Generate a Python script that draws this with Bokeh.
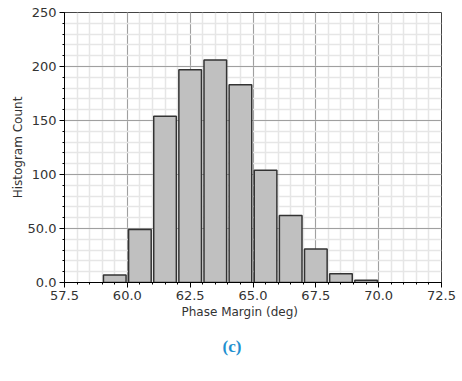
import numpy as np
from bokeh.plotting import figure
from bokeh.models import FixedTicker, Range1d, Title
from bokeh.embed import file_html
from bokeh.resources import INLINE

# ---- data ----
bin_left = [59, 60, 61, 62, 63, 64, 65, 66, 67, 68, 69]
counts = [7, 49, 154, 197, 206, 183, 104, 62, 31, 8, 2]
x_ticks = [57.5, 60.0, 62.5, 65.0, 67.5, 70.0, 72.5]
x_tick_labels = ["57.5", "60.0", "62.5", "65.0", "67.5", "70.0", "72.5"]
y_ticks = [0, 50, 100, 150, 200, 250]
y_tick_labels = ["0.0", "50.0", "100", "150", "200", "250"]

bin_width = 1.0
centers = [b + bin_width / 2 for b in bin_left]

FONT = "DejaVu Sans"

p = figure(output_backend="svg", toolbar_location=None,
           frame_width=377, frame_height=270,
           x_range=Range1d(57.5, 72.5), y_range=Range1d(0, 250),
           min_border_left=64, min_border_right=16,
           min_border_top=12, min_border_bottom=20)
p.background_fill_color = "white"
p.border_fill_color = "white"
p.outline_line_color = "#444444"
p.outline_line_width = 1

x_minor = list(np.arange(57.5, 72.51, 0.5))
y_minor = list(np.arange(0, 250.1, 10))
xt = FixedTicker(ticks=x_ticks, minor_ticks=x_minor)
yt = FixedTicker(ticks=y_ticks, minor_ticks=y_minor)
p.xaxis.ticker = xt
p.yaxis.ticker = yt
p.xgrid.ticker = xt
p.ygrid.ticker = yt
p.xaxis.major_label_overrides = {t: l for t, l in zip(x_ticks, x_tick_labels)}
p.yaxis.major_label_overrides = {t: l for t, l in zip(y_ticks, y_tick_labels)}

for g in (p.xgrid, p.ygrid):
    g.grid_line_color = "#a0a0a0"
    g.grid_line_width = 1
    g.minor_grid_line_color = "#e6e6e6"
    g.minor_grid_line_width = 1.5

for ax in (p.xaxis, p.yaxis):
    ax.axis_line_color = "black"
    ax.axis_line_width = 1
    ax.major_tick_line_color = "black"
    ax.minor_tick_line_color = "black"
    ax.major_tick_in = 0
    ax.major_tick_out = 5
    ax.minor_tick_in = 0
    ax.minor_tick_out = 2
    ax.major_label_text_font = FONT
    ax.major_label_text_font_size = "13px"
    ax.major_label_text_color = "#333333"
    ax.axis_label_text_font = FONT
    ax.axis_label_text_font_size = "12px"
    ax.axis_label_text_font_style = "normal"
    ax.axis_label_text_color = "#333333"
    ax.major_label_standoff = 3
    ax.axis_label_standoff = 0

p.yaxis.axis_label = "Histogram Count"

p.vbar(x=centers, width=0.9 * bin_width, top=counts, bottom=0,
       fill_color="#c0c0c0", line_color="#333333", line_width=1.5)

xlabel = Title(text="Phase Margin (deg)", align="left", offset=117,
               text_font=FONT, text_font_style="normal", text_font_size="12px",
               text_color="#333333", standoff=0)
p.add_layout(xlabel, "below")

cap = Title(text="(c)", align="left", offset=158, text_font="Liberation Serif",
            text_font_style="bold", text_font_size="17px",
            text_color="#1e90d0", standoff=33)
p.add_layout(cap, "below")

open("out.html", "w").write(file_html(p, INLINE))
